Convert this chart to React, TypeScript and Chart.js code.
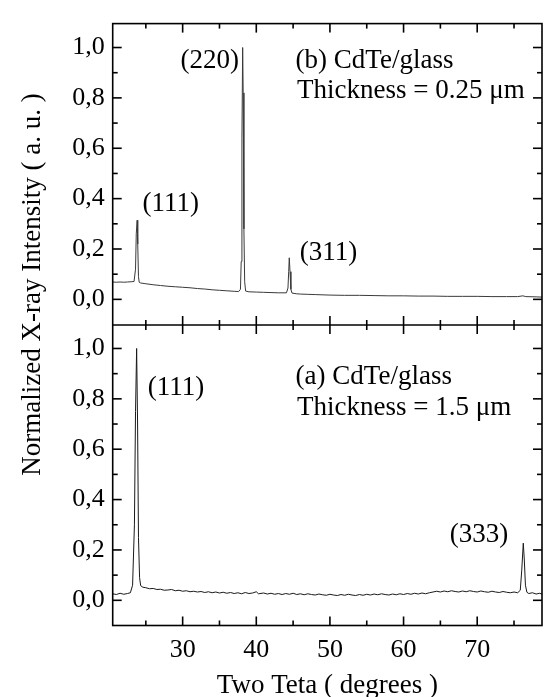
import React, { useEffect, useRef } from "react";
import { Chart, registerables } from "chart.js";

Chart.register(...registerables);

// ---- data ----
const topX = [20.5, 21.0, 21.5, 22.0, 22.5, 23.0, 23.4, 23.6, 23.7, 23.82, 23.9, 24.0, 24.1, 24.3, 25, 26, 27, 28, 29, 30, 31, 32, 33, 34, 35, 36, 37, 37.6, 37.85, 37.95, 38.05, 38.15, 38.22, 38.32, 38.42, 38.55, 39, 40, 41, 42, 43, 44.1, 44.3, 44.4, 44.48, 44.58, 44.7, 44.85, 45.5, 46, 47, 48, 50, 52, 54, 56, 58, 60, 62, 64, 66, 68, 70, 72, 74, 75.5, 76.2, 76.6, 78, 78.8];
const topY = [0.069, 0.068, 0.069, 0.068, 0.069, 0.070, 0.071, 0.12, 0.26, 0.314, 0.22, 0.09, 0.068, 0.065, 0.062, 0.058, 0.055, 0.052, 0.050, 0.048, 0.046, 0.043, 0.041, 0.038, 0.036, 0.034, 0.032, 0.031, 0.04, 0.15, 0.64, 1.0, 0.82, 0.28, 0.07, 0.033, 0.030, 0.029, 0.028, 0.027, 0.026, 0.026, 0.045, 0.11, 0.165, 0.11, 0.04, 0.025, 0.022, 0.021, 0.020, 0.019, 0.017, 0.016, 0.016, 0.015, 0.014, 0.014, 0.013, 0.013, 0.012, 0.012, 0.012, 0.011, 0.011, 0.011, 0.014, 0.011, 0.010, 0.009];

const botX = [20.5, 21, 21.5, 22, 22.5, 22.9, 23.2, 23.45, 23.6, 23.75, 23.88, 24.0, 24.15, 24.3, 24.6, 25, 25.5, 26, 26.5, 27, 27.5, 28, 28.5, 29, 29.5, 30, 30.5, 31, 31.5, 32, 32.5, 33, 33.5, 34, 34.5, 35, 35.5, 36, 36.5, 37, 37.5, 38, 38.5, 39, 39.5, 40, 40.3, 41, 41.5, 42, 42.5, 43, 43.5, 44, 44.5, 45, 45.5, 46, 46.5, 47, 47.5, 48, 48.5, 49, 49.5, 50, 50.5, 51, 51.5, 52, 52.5, 53, 53.5, 54, 54.5, 55, 55.5, 56, 56.5, 57, 57.5, 58, 58.5, 59, 59.5, 60, 60.5, 61, 61.5, 62, 62.5, 63, 63.5, 64, 64.5, 65, 65.5, 66, 66.5, 67, 67.5, 68, 68.5, 69, 69.5, 70, 70.5, 71, 71.5, 72, 72.5, 73, 73.5, 74, 74.5, 75, 75.5, 75.85, 76.05, 76.26, 76.4, 76.55, 76.75, 77, 77.5, 78, 78.5, 78.8];
const botY = [0.026, 0.023, 0.028, 0.024, 0.027, 0.030, 0.06, 0.30, 0.75, 1.0, 0.70, 0.25, 0.09, 0.058, 0.052, 0.050, 0.046, 0.047, 0.043, 0.044, 0.040, 0.041, 0.043, 0.038, 0.040, 0.036, 0.038, 0.034, 0.036, 0.033, 0.035, 0.031, 0.034, 0.030, 0.033, 0.029, 0.032, 0.028, 0.031, 0.027, 0.030, 0.026, 0.031, 0.027, 0.029, 0.034, 0.026, 0.029, 0.025, 0.028, 0.024, 0.027, 0.023, 0.027, 0.024, 0.028, 0.023, 0.026, 0.022, 0.026, 0.023, 0.021, 0.025, 0.022, 0.020, 0.024, 0.021, 0.019, 0.023, 0.020, 0.024, 0.021, 0.019, 0.023, 0.020, 0.024, 0.021, 0.025, 0.022, 0.026, 0.023, 0.021, 0.025, 0.022, 0.026, 0.023, 0.027, 0.024, 0.028, 0.025, 0.029, 0.026, 0.030, 0.033, 0.036, 0.033, 0.037, 0.034, 0.038, 0.035, 0.033, 0.037, 0.034, 0.038, 0.035, 0.033, 0.037, 0.034, 0.032, 0.036, 0.033, 0.031, 0.035, 0.032, 0.030, 0.033, 0.030, 0.040, 0.12, 0.227, 0.16, 0.06, 0.032, 0.027, 0.030, 0.025, 0.028, 0.024];

const xMajor = [30, 40, 50, 60, 70];
const xMinor = [25, 35, 45, 55, 65, 75];
const yMajor = [0, 0.2, 0.4, 0.6, 0.8, 1.0];
const yMinor = [0.1, 0.3, 0.5, 0.7, 0.9];

const xTitle = "Two Teta ( degrees )";
const yTitle = "Normalized X-ray Intensity ( a. u. )";

const annText = ["(220)", "(b) CdTe/glass", "Thickness = 0.25 \u03bcm", "(111)", "(311)", "(111)", "(a) CdTe/glass", "Thickness = 1.5 \u03bcm", "(333)"];
const annX = [37.66, 45.34, 45.54, 24.55, 45.9, 25.26, 45.34, 45.54, 74.2];
const annY = [0.948, 0.948, 0.828, 0.381, 0.184, 0.844, 0.889, 0.763, 0.26];
const annPanel = ["yTop", "yTop", "yTop", "yTop", "yTop", "yBot", "yBot", "yBot", "yBot"];
const annAlign = ["right", "left", "left", "left", "left", "left", "left", "left", "right"];

const FONT = "'Liberation Serif', 'Times New Roman', serif";

const framePlugin = {
  id: "frame",
  afterDraw(chart: any) {
    const ctx = chart.ctx as CanvasRenderingContext2D;
    const { left, right, top, bottom } = chart.chartArea;
    const xs = chart.scales.x;
    const yT = chart.scales.yTop;
    const yB = chart.scales.yBot;
    const mid = Math.round(Math.min(yT.bottom, yB.bottom));
    const seg = (x1: number, y1: number, x2: number, y2: number) => {
      ctx.beginPath();
      ctx.moveTo(x1, y1);
      ctx.lineTo(x2, y2);
      ctx.stroke();
    };
    ctx.save();
    ctx.strokeStyle = "#000";
    ctx.lineWidth = 1.6;
    ctx.strokeRect(left, top, right - left, bottom - top);
    seg(left, mid, right, mid);
    const MAJ = 9, MIN = 5;
    const xt = (v: number, len: number) => {
      const px = xs.getPixelForValue(v);
      if (px <= left + 1 || px >= right - 1) return;
      seg(px, top, px, top + len);
      seg(px, bottom, px, bottom - len);
      seg(px, mid - len, px, mid + len);
    };
    xMajor.forEach((v) => xt(v, MAJ));
    xMinor.forEach((v) => xt(v, MIN));
    [yT, yB].forEach((ys: any) => {
      const yt = (v: number, len: number) => {
        const py = ys.getPixelForValue(v);
        if (py <= ys.top + 1 || py >= ys.bottom - 1) return;
        seg(left, py, left + len, py);
        seg(right, py, right - len, py);
      };
      yMajor.forEach((v) => yt(v, MAJ));
      yMinor.forEach((v) => yt(v, MIN));
    });
    ctx.restore();

    // texts
    ctx.save();
    ctx.fillStyle = "#000";
    ctx.font = `27px ${FONT}`;
    ctx.textBaseline = "middle";
    annText.forEach((t, i) => {
      const px = xs.getPixelForValue(annX[i]);
      const py = chart.scales[annPanel[i]].getPixelForValue(annY[i]);
      ctx.textAlign = annAlign[i] as CanvasTextAlign;
      ctx.fillText(t, px, py);
    });
    ctx.textAlign = "center";
    ctx.textBaseline = "alphabetic";
    ctx.fillText(xTitle, (left + right) / 2, 693);
    ctx.translate(40, (top + bottom) / 2 - 40);
    ctx.rotate(-Math.PI / 2);
    ctx.fillText(yTitle, 0, 0);
    ctx.restore();
  },
};

const fmt = (v: number) => v.toFixed(1).replace(".", ",");

export default function App() {
  const ref = useRef<HTMLCanvasElement | null>(null);
  useEffect(() => {
    if (!ref.current) return;
    const tickFont = { family: FONT, size: 26 };
    const yAxis = () => ({
      type: "linear" as const,
      position: "left" as const,
      stack: "panels",
      stackWeight: 1,
      min: -0.1,
      max: 1.095,
      grid: { display: false, drawTicks: false },
      border: { display: false },
      ticks: { font: tickFont, color: "#000", padding: 8, callback: (v: any) => fmt(Number(v)) },
      afterBuildTicks: (s: any) => {
        s.ticks = yMajor.map((v) => ({ value: v }));
      },
      afterFit: (s: any) => {
        s.width = 112.7;
      },
    });
    const chart = new Chart(ref.current, {
      type: "line",
      data: {
        datasets: [
          {
            data: topX.map((x, i) => ({ x, y: topY[i] })),
            yAxisID: "yTop",
            borderColor: "#3a3a3a",
            borderWidth: 1,
            pointRadius: 0,
            tension: 0,
          },
          {
            data: botX.map((x, i) => ({ x, y: botY[i] })),
            yAxisID: "yBot",
            borderColor: "#1a1a1a",
            borderWidth: 1,
            pointRadius: 0,
            tension: 0,
          },
        ],
      },
      options: {
        responsive: false,
        animation: false,
        devicePixelRatio: 1,
        layout: { padding: { top: 12.3, right: 2, left: 0, bottom: 0 } },
        plugins: { legend: { display: false }, tooltip: { enabled: false } },
        scales: {
          x: {
            type: "linear",
            position: "bottom",
            min: 20.5,
            max: 78.8,
            grid: { display: false, drawTicks: false },
            border: { display: false },
            ticks: { font: tickFont, color: "#000", padding: 9, maxRotation: 0, callback: (v: any) => String(v) },
            afterBuildTicks: (s: any) => {
              s.ticks = xMajor.map((v) => ({ value: v }));
            },
            afterFit: (s: any) => {
              s.height = 71.5;
            },
          },
          yBot: yAxis(),
          yTop: yAxis(),
        },
      } as any,
      plugins: [framePlugin],
    });
    return () => chart.destroy();
  }, []);
  return (
    <div style={{ position: "fixed", left: 0, top: 0, width: 544, height: 697, background: "#fff" }}>
      <canvas ref={ref} width={544} height={697} style={{ display: "block" }} />
    </div>
  );
}
